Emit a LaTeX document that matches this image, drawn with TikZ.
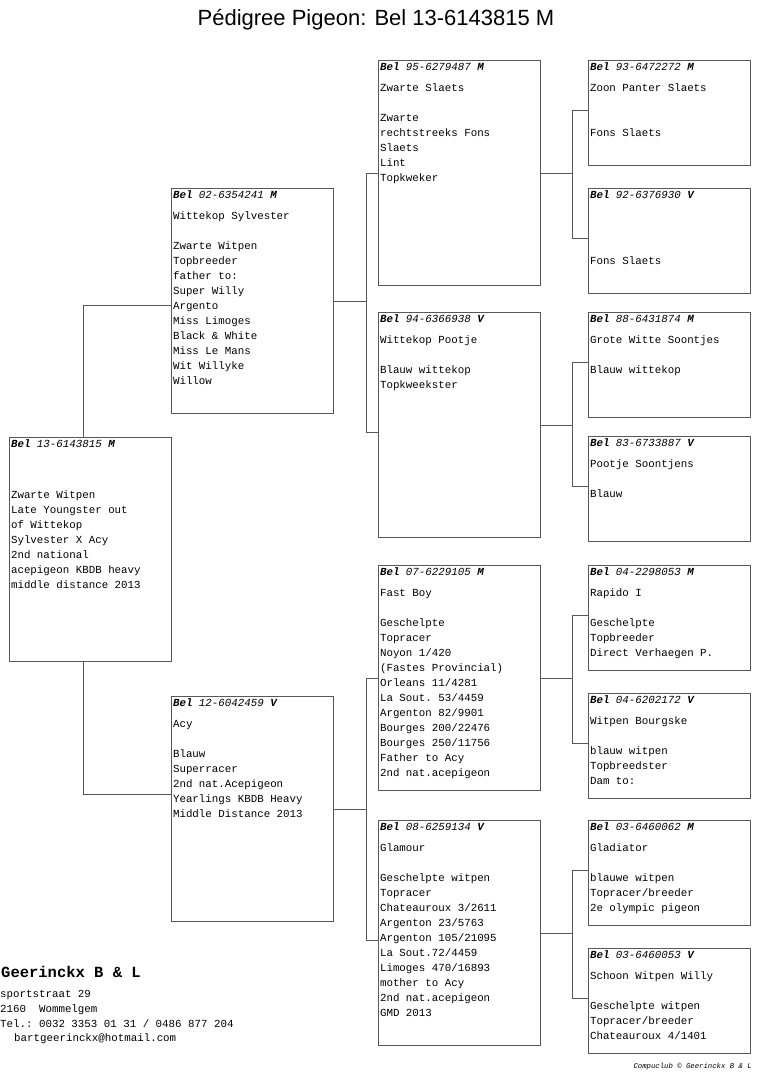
\documentclass[tikz,border=0pt]{standalone}
\usepackage{fontspec}
\setmainfont{Liberation Sans}
\setmonofont{Liberation Mono}
\usepackage{tikz}
\usetikzlibrary{calc}
\definecolor{frameline}{RGB}{88,88,88}
\newcommand{\ringnr}[3]{\textbf{\textit{#1}} \textit{#2} \textbf{\textit{#3}}}
\newcommand{\fixedspace}{\spaceskip=0.6em\relax\xspaceskip=0.6em\relax}
\tikzset{
	pigeon/.style={rectangle, draw=frameline, line width=1.1pt,
		anchor=north west, inner xsep=1.5pt, inner ysep=0pt,
		align=left, text height=10pt,
		font=\ttfamily\fontsize{10.8}{15}\selectfont,
		execute at begin node=\fixedspace},
	bigcard/.style={pigeon, text width=159pt, text depth=215pt},
	smallcard/.style={pigeon, text width=159pt, text depth=95pt},
	link/.style={draw=frameline, line width=1pt},
	heading/.style={font=\fontsize{22}{26}\selectfont},
	firm/.style={font=\ttfamily\bfseries\fontsize{15.5}{18}\selectfont},
	address/.style={align=left, inner sep=0pt, text width=250pt,
		text height=7.5pt,
		font=\ttfamily\fontsize{10.8}{14.7}\selectfont,
		execute at begin node=\fixedspace},
	credit/.style={inner sep=0pt,
		font=\ttfamily\itshape\fontsize{7.3}{8}\selectfont}
}

\begin{document}
\begin{tikzpicture}[x=1pt, y=-1pt]
	\useasboundingbox (0,0) rectangle (760,1092);
	
	%% ---- Title ----
	\node[heading] (title) at (376,20) {Pédigree Pigeon: Bel 13-6143815 M};
	
	%% ---- Pigeon itself ----
	\node[pigeon, text width=159pt, text depth=214pt] (b13) at (9,437)
	{\ringnr{Bel}{13-6143815}{M}\\[6pt]\mbox{}\\\mbox{}\\Zwarte Witpen\\Late Youngster out\\of Wittekop\\Sylvester X Acy\\2nd national\\acepigeon KBDB heavy\\middle distance 2013};
	
	%% ---- Parents ----
	\node[bigcard] (b02) at (171,188)
	{\ringnr{Bel}{02-6354241}{M}\\[6pt]Wittekop Sylvester\\\mbox{}\\Zwarte Witpen\\Topbreeder\\father to:\\Super Willy\\Argento\\Miss Limoges\\Black \& White\\Miss Le Mans\\Wit Willyke\\Willow};
	\node[bigcard] (b12) at (171,696)
	{\ringnr{Bel}{12-6042459}{V}\\[6pt]Acy\\\mbox{}\\Blauw\\Superracer\\2nd nat.Acepigeon\\Yearlings KBDB Heavy\\Middle Distance 2013};
	
	%% ---- Grandparents ----
	\node[bigcard] (b95) at (378,60)
	{\ringnr{Bel}{95-6279487}{M}\\[6pt]Zwarte Slaets\\\mbox{}\\Zwarte\\rechtstreeks Fons\\Slaets\\Lint\\Topkweker};
	\node[bigcard] (b94) at (378,312)
	{\ringnr{Bel}{94-6366938}{V}\\[6pt]Wittekop Pootje\\\mbox{}\\Blauw wittekop\\Topkweekster};
	\node[bigcard] (b07) at (378,565)
	{\ringnr{Bel}{07-6229105}{M}\\[6pt]Fast Boy\\\mbox{}\\Geschelpte\\Topracer\\Noyon 1/420\\(Fastes Provincial)\\Orleans 11/4281\\La Sout. 53/4459\\Argenton 82/9901\\Bourges 200/22476\\Bourges 250/11756\\Father to Acy\\2nd nat.acepigeon};
	\node[bigcard] (b08) at (378,820)
	{\ringnr{Bel}{08-6259134}{V}\\[6pt]Glamour\\\mbox{}\\Geschelpte witpen\\Topracer\\Chateauroux 3/2611\\Argenton 23/5763\\Argenton 105/21095\\La Sout.72/4459\\Limoges 470/16893\\mother to Acy\\2nd nat.acepigeon\\GMD 2013};
	
	%% ---- Great-grandparents ----
	\node[smallcard] (b93) at (588,60)
	{\ringnr{Bel}{93-6472272}{M}\\[6pt]Zoon Panter Slaets\\\mbox{}\\\mbox{}\\Fons Slaets};
	\node[smallcard] (b92) at (588,188)
	{\ringnr{Bel}{92-6376930}{V}\\[6pt]\mbox{}\\\mbox{}\\\mbox{}\\Fons Slaets};
	\node[smallcard] (b88) at (588,312)
	{\ringnr{Bel}{88-6431874}{M}\\[6pt]Grote Witte Soontjes\\\mbox{}\\Blauw wittekop};
	\node[smallcard] (b83) at (588,436)
	{\ringnr{Bel}{83-6733887}{V}\\[6pt]Pootje Soontjens\\\mbox{}\\Blauw};
	\node[smallcard] (b04m) at (588,565)
	{\ringnr{Bel}{04-2298053}{M}\\[6pt]Rapido I\\\mbox{}\\Geschelpte\\Topbreeder\\Direct Verhaegen P.};
	\node[smallcard] (b04v) at (588,693)
	{\ringnr{Bel}{04-6202172}{V}\\[6pt]Witpen Bourgske\\\mbox{}\\blauw witpen\\Topbreedster\\Dam to:};
	\node[smallcard] (b03m) at (588,820)
	{\ringnr{Bel}{03-6460062}{M}\\[6pt]Gladiator\\\mbox{}\\blauwe witpen\\Topracer/breeder\\2e olympic pigeon};
	\node[smallcard] (b03v) at (588,948)
	{\ringnr{Bel}{03-6460053}{V}\\[6pt]Schoon Witpen Willy\\\mbox{}\\Geschelpte witpen\\Topracer/breeder\\Chateauroux 4/1401};
	
	%% ---- Lines: pigeon -> parents ----
	\draw[link] ([xshift=-7pt]b13.north) |- ([yshift=-4pt]b02.west);
	\draw[link] ([xshift=-7pt]b13.south) |- ([yshift=15pt]b12.west);
	
	%% ---- Lines: parents -> grandparents ----
	\draw[link] (b02.east) -- ++(32,0) coordinate (j02) |- (b95.west);
	\draw[link] (j02) |- ([yshift=-7.5pt]b94.west);
	\draw[link] (b12.east) -- ++(32,0) coordinate (j12) |- (b07.west);
	\draw[link] (j12) |- ([yshift=-7.5pt]b08.west);
	
	%% ---- Lines: grandparents -> great-grandparents ----
	\foreach \p/\s/\d in {b95/b93/b92, b94/b88/b83, b07/b04m/b04v, b08/b03m/b03v}{
		\draw[link] (\p.east) -- ++(31,0) coordinate (j\p) |- ([yshift=3pt]\s.west);
		\draw[link] (j\p) |- ([yshift=3pt]\d.west);
	}
	
	%% ---- Breeder ----
	\node[firm, anchor=base west, inner sep=0pt] (breeder) at (1,977) {Geerinckx B \& L};
	\node[address, anchor=north west] (addr) at (0,990)
	{sportstraat 29\\2160\ \ Wommelgem\\Tel.: 0032 3353 01 31 / 0486 877 204\\\hspace*{14pt}bartgeerinckx@hotmail.com};
	\node[credit, anchor=east] (credit) at (752,1067) {Compuclub © Geerinckx B \& L};
	
\end{tikzpicture}
\end{document}
